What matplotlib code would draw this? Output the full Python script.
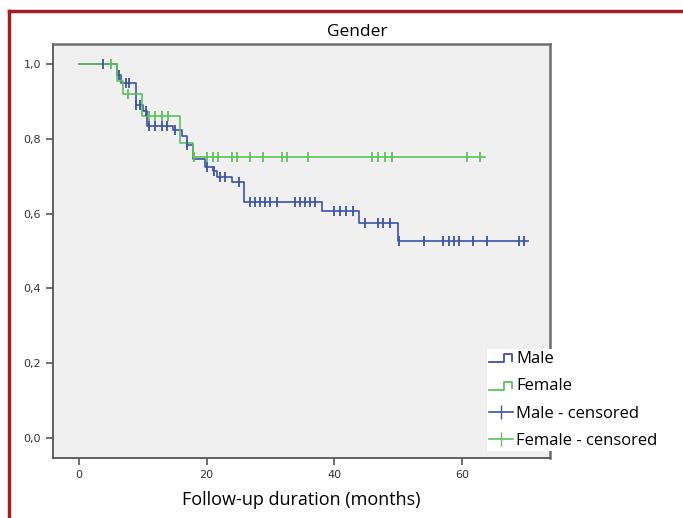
import numpy as np
import matplotlib.pyplot as plt
from matplotlib.lines import Line2D
from matplotlib.legend_handler import HandlerBase

# --- datos ---
male_t = [0, 5.9, 6.6, 8.9, 10.1, 10.7, 14.8, 16.1, 16.9, 17.9, 19.7, 21.0, 21.6,
          23.9, 25.8, 38.0, 43.9, 50.0, 70.4]
male_s = [1.0, 0.971, 0.949, 0.891, 0.875, 0.835, 0.824, 0.808, 0.784, 0.746, 0.726,
          0.713, 0.699, 0.686, 0.630, 0.606, 0.574, 0.528, 0.528]
male_cens = [3.8, 6.2, 7.3, 7.8, 9.0, 9.6, 10.5, 10.9, 11.9, 13.0, 13.8, 15.0, 17.0,
             20.0, 21.1, 22.1, 22.9, 25.0, 26.8, 27.6, 28.4, 29.2, 29.9, 31.0,
             33.9, 34.6, 35.4, 36.2, 37.0, 40.0, 40.9, 41.9, 43.0, 44.8, 46.9, 47.7,
             48.7, 50.1, 54.0, 57.1, 57.9, 58.7, 59.5, 61.8, 63.9, 68.9, 69.7]

female_t = [0, 5.9, 6.95, 9.8, 15.8, 17.9, 63.6]
female_s = [1.0, 0.955, 0.920, 0.862, 0.789, 0.753, 0.753]
female_cens = [5.0, 7.7, 10.9, 11.9, 13.0, 14.0, 18.0, 20.0, 21.0, 21.8, 23.9, 24.7,
               26.8, 28.9, 31.8, 32.6, 35.9, 45.9, 46.9, 48.0, 49.0, 60.8, 62.9]

x_ticks = [0, 20, 40, 60]
y_ticks = [0.0, 0.2, 0.4, 0.6, 0.8, 1.0]
y_tick_labels = ["0,0", "0,2", "0,4", "0,6", "0,8", "1,0"]

azul = '#3c52a8'
verde = '#5cc25a'


def supervivencia(ts, ss, t):
    idx = np.searchsorted(ts, t, side='right') - 1
    return np.array(ss)[idx]


class HandlerEscalon(HandlerBase):
    def create_artists(self, legend, orig_handle, xdescent, ydescent, width, height, fontsize, trans):
        xs = np.array([0, 0.6, 0.6, 0.95, 0.95]) * width - xdescent
        ys = np.array([0.05, 0.05, 0.75, 0.75, 0.2]) * height - ydescent
        l = Line2D(xs, ys, color=orig_handle.get_color(), linewidth=1.3, transform=trans)
        return [l]


fig = plt.figure(figsize=(6.83, 5.18), dpi=100)
ax = fig.add_axes([53 / 683, 1 - 458 / 518, 497 / 683, 414 / 518])
ax.set_facecolor('#f0f0f0')

ax.step(male_t, male_s, where='post', color=azul, linewidth=1.2)
ax.step(female_t, female_s, where='post', color=verde, linewidth=1.2)
ax.plot(male_cens, supervivencia(male_t, male_s, male_cens), linestyle='none',
        marker='|', markersize=7, markeredgewidth=1.3, color=azul)
ax.plot(female_cens, supervivencia(female_t, female_s, female_cens), linestyle='none',
        marker='|', markersize=7, markeredgewidth=1.3, color=verde)

ax.set_xlim(-4.07, 73.8)
ax.set_ylim(-0.0535, 1.054)
ax.set_xticks(x_ticks)
ax.set_yticks(y_ticks)
ax.set_yticklabels(y_tick_labels)
ax.tick_params(axis='both', direction='out', length=5, width=1.2, color='#555555',
               labelsize=8, labelcolor='#333333')
for s in ['left', 'bottom']:
    ax.spines[s].set_color('#555555')
    ax.spines[s].set_linewidth(1.3)
for s in ['top', 'right']:
    ax.spines[s].set_color('#6e6e6e')
    ax.spines[s].set_linewidth(1.8)

ax.set_xlabel("Follow-up duration (months)", fontsize=13, family='Open Sans', labelpad=8)
fig.text(357 / 683, 1 - 32 / 518, "Gender", fontsize=12.5, family='Open Sans',
         ha='center', va='center')

handles = [Line2D([], [], color=azul), Line2D([], [], color=verde),
           Line2D([], [], color=azul, marker='|', markersize=10, linewidth=1.2),
           Line2D([], [], color=verde, marker='|', markersize=10, linewidth=1.2)]
labels = ["Male", "Female", "Male - censored", "Female - censored"]
leg = fig.legend(handles, labels, loc='upper left', bbox_to_anchor=(479 / 683, 1 - 341 / 518),
                 bbox_transform=fig.transFigure, frameon=True, facecolor='white',
                 edgecolor='none', fancybox=False, framealpha=1, borderpad=0.1,
                 prop={'family': 'Open Sans', 'size': 12},
                 handlelength=1.45, handletextpad=0.2, labelspacing=0.68,
                 handler_map={handles[0]: HandlerEscalon(), handles[1]: HandlerEscalon()})

# marco rojo
fig.add_artist(Line2D([9 / 683, 9 / 683], [0, 1 - 11 / 518], transform=fig.transFigure,
                      color='#a31d26', linewidth=2.5))
fig.add_artist(Line2D([9 / 683, 1], [1 - 11 / 518, 1 - 11 / 518], transform=fig.transFigure,
                      color='#a31d26', linewidth=2.5))

fig.savefig('out.png', dpi=100)
